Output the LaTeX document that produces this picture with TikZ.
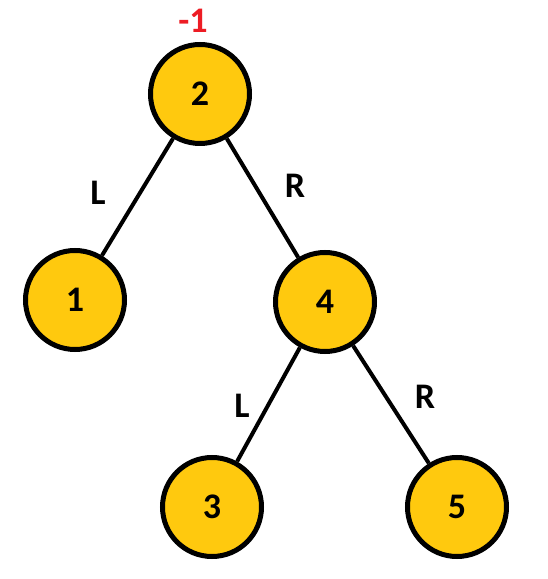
\documentclass[tikz,border=0pt]{standalone}
\usepackage{fontspec}
\setmainfont{Carlito}
\usepackage{xcolor}
\usetikzlibrary{positioning}
\definecolor{nodegold}{RGB}{255,201,14}
\definecolor{markred}{RGB}{237,28,36}
\tikzset{
  treenode/.style = {circle, draw=black, line width=5pt, fill=nodegold, minimum size=99pt, inner sep=0pt, font=\fontsize{36}{40}\selectfont\bfseries},
  side/.style     = {inner sep=0pt, font=\fontsize{36}{40}\selectfont\bfseries},
  branch/.style   = {line width=4pt, draw=black},
}

\begin{document}
\begin{tikzpicture}[x=1pt, y=1pt]
  \useasboundingbox (0,0) rectangle (547,579);
  % tree nodes
  \node[treenode] (n2) at (200,485) {2};
  \node[treenode] (n1) at (75,279) {1};
  \node[treenode] (n4) at (325,277) {4};
  \node[treenode] (n3) at (212,72) {3};
  \node[treenode] (n5) at (457,72) {5};
  % branches
  \draw[branch] (n2) -- (n1);
  \draw[branch] (n2) -- (n4);
  \draw[branch] (n4) -- (n3);
  \draw[branch] (n4) -- (n5);
  % labels
  \node[side, text=markred] (mark) at (193,558) {-1};
  \node[side] (l1) at (98,386) {L};
  \node[side] (r1) at (295,393) {R};
  \node[side] (l2) at (242,173) {L};
  \node[side] (r2) at (425,182) {R};
\end{tikzpicture}
\end{document}
